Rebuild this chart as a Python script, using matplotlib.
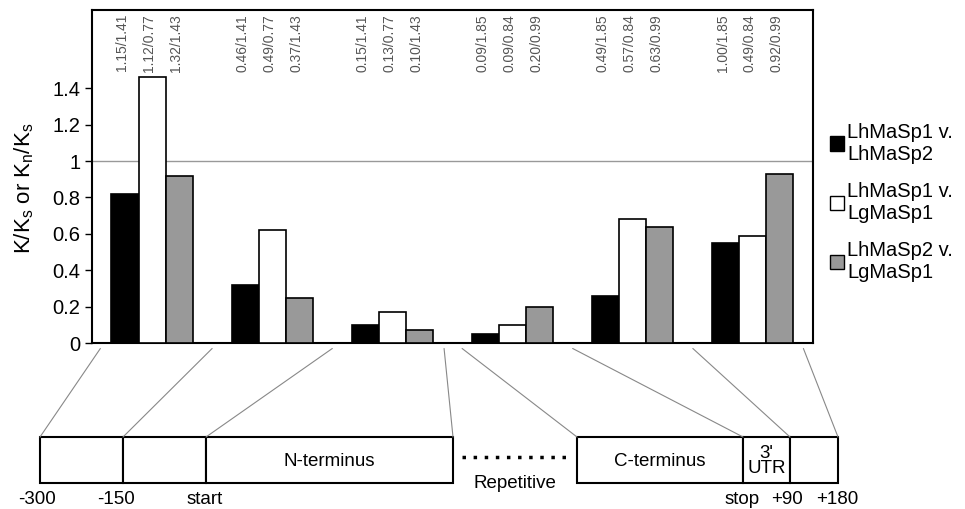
import numpy as np
import matplotlib
matplotlib.use('Agg')
import matplotlib.pyplot as plt
from matplotlib.patches import Rectangle, Patch, ConnectionPatch

plt.rcParams['font.family'] = ['Liberation Sans', 'DejaVu Sans']

# --- data ---
series = ['LhMaSp1 v.\nLhMaSp2', 'LhMaSp1 v.\nLgMaSp1', 'LhMaSp2 v.\nLgMaSp1']
lh1_lh2 = [0.82, 0.32, 0.10, 0.05, 0.26, 0.55]
lh1_lg1 = [1.46, 0.62, 0.17, 0.10, 0.68, 0.59]
lh2_lg1 = [0.92, 0.25, 0.07, 0.20, 0.64, 0.93]
ratios_lh1_lh2 = ['1.15/1.41', '0.46/1.41', '0.15/1.41', '0.09/1.85', '0.49/1.85', '1.00/1.85']
ratios_lh1_lg1 = ['1.12/0.77', '0.49/0.77', '0.13/0.77', '0.09/0.84', '0.57/0.84', '0.49/0.84']
ratios_lh2_lg1 = ['1.32/1.43', '0.37/1.43', '0.10/1.43', '0.20/0.99', '0.63/0.99', '0.92/0.99']
yticks = [0, 0.2, 0.4, 0.6, 0.8, 1.0, 1.2, 1.4]
ytick_labels = ['0', '0.2', '0.4', '0.6', '0.8', '1', '1.2', '1.4']

# gene diagram: segments (left px, right px, label) and position labels
segments = [(40, 123, ''), (123, 206, ''), (206, 453, 'N-terminus'),
            (577, 743, 'C-terminus'), (743, 790, "3'\nUTR"), (790, 838, '')]
pos_labels = ['-300', '-150', 'start', 'stop', '+90', '+180']
pos_x = [37, 116, 205, 742, 787, 837]
# zoom lines: group-boundary (bar data x) -> diagram edge (px)
link_from = [-0.43, 0.5, 1.5, 2.43, 2.58, 3.5, 4.5, 5.42]
link_to = [40, 123, 206, 453, 577, 743, 790, 838]

colors = ['black', 'white', '#999999']

fig = plt.figure(figsize=(9.65, 5.09), dpi=100)
ax = fig.add_axes([0.0953, 0.3261, 0.7472, 0.6542])

x = np.arange(len(lh1_lh2))
w = 0.225
for k, (vals, labs) in enumerate([(lh1_lh2, ratios_lh1_lh2),
                                  (lh1_lg1, ratios_lh1_lg1),
                                  (lh2_lg1, ratios_lh2_lg1)]):
    xs = x + (k - 1) * w
    ax.bar(xs, vals, width=w, color=colors[k], edgecolor='black', linewidth=1.2, zorder=3)
    for xi, t in zip(xs, labs):
        ax.text(xi - 0.025, 0.988, t, transform=ax.get_xaxis_transform(), rotation=90,
                ha='center', va='top', fontsize=10, color='#555555')

ax.axhline(1.0, color='#999999', lw=1, zorder=1)
ax.set_xlim(-0.5, 5.5)
ax.set_ylim(0, 1.83)
ax.set_xticks([])
ax.set_yticks(yticks)
ax.set_yticklabels(ytick_labels, fontsize=14.5)
ax.tick_params(axis='y', length=5, width=1)
for s in ax.spines.values():
    s.set_linewidth(1.5)
ax.set_ylabel('K/K$_\\mathregular{s}$ or K$_\\mathregular{n}$/K$_\\mathregular{s}$',
              fontsize=16, labelpad=6)
ax.yaxis.set_label_coords(-0.077, 0.465)

handles = [Patch(facecolor=c, edgecolor='black', linewidth=1) for c in colors]
fig.legend(handles, series, loc='upper left', bbox_to_anchor=(0.852, 0.775),
           frameon=False, fontsize=14.5, handlelength=0.7, handleheight=0.7,
           handletextpad=0.15, labelspacing=0.9, borderaxespad=0)

# --- gene diagram overlay in pixel coords ---
dax = fig.add_axes([0, 0, 1, 1], zorder=-1)
dax.set_xlim(0, 965)
dax.set_ylim(509, 0)
dax.axis('off')
top, bot = 437, 483
for l, r, lab in segments:
    dax.add_patch(Rectangle((l, top), r - l, bot - top, facecolor='white',
                            edgecolor='black', lw=1.5))
    if lab:
        dax.text((l + r) / 2, (top + bot) / 2 + 1, lab, ha='center', va='center',
                 fontsize=13.5, linespacing=0.85)
for t, px in zip(pos_labels, pos_x):
    dax.text(px, 500, t, ha='center', va='center', fontsize=13.5)
dax.plot([462, 570], [457, 457], color='black', lw=2.5, linestyle=(0, (1, 2.2)))
dax.text(515, 483, 'Repetitive', ha='center', va='center', fontsize=13.5)

for a, b in zip(link_from, link_to):
    con = ConnectionPatch(xyA=(a, -0.03), coordsA='data', axesA=ax,
                          xyB=(b, top), coordsB='data', axesB=dax,
                          color='#888888', lw=0.8)
    con.set_annotation_clip(False)
    fig.add_artist(con)

fig.savefig('out.png', dpi=100)
